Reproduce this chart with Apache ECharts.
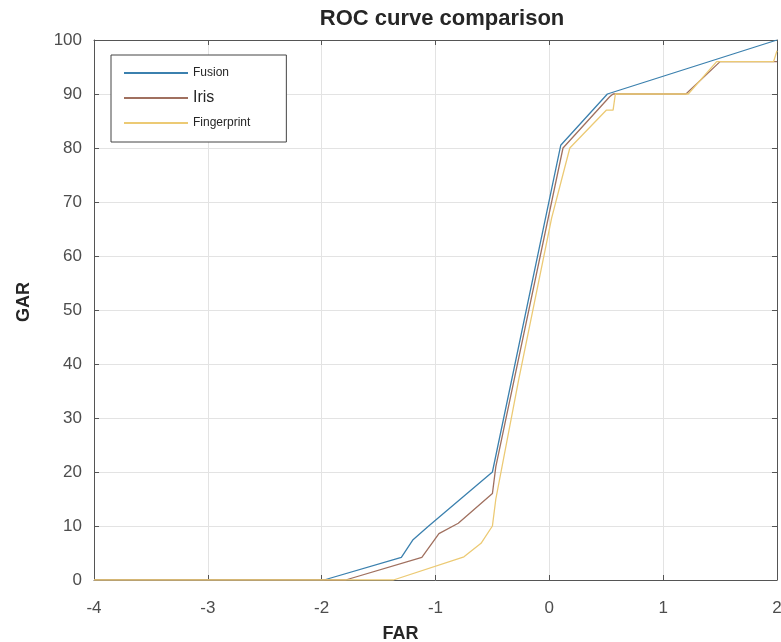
<!DOCTYPE html>
<html>
<head>
<meta charset="utf-8">
<title>ROC curve comparison</title>
<script src="https://cdn.jsdelivr.net/npm/echarts@6/dist/echarts.min.js"></script>
<style>
    html, body { margin: 0; padding: 0; background: #fff; }
    #chart { width: 781px; height: 642px; }
</style>
</head>
<body>
<div id="chart"></div>
<script>
// 读图得到的数据 (FAR, GAR)
const fusionX = [-4, -1.98, -1.3, -1.2, -1.06, -0.5, 0.1, 0.51, 2];
const fusionY = [0, 0, 4.2, 7.4, 10, 20, 80.5, 90, 100];

const irisX = [-4, -1.79, -1.12, -0.97, -0.8, -0.5, -0.47, 0.12, 0.53, 0.56, 1.2, 1.5, 2];
const irisY = [0, 0, 4.2, 8.6, 10.5, 16, 21, 80, 89.5, 90, 90, 96, 96];

const fingerX = [-4, -1.37, -0.75, -0.6, -0.5, -0.47, -0.27, 0.02, 0.18, 0.5, 0.56, 0.58, 1.22, 1.47, 1.97, 2];
const fingerY = [0, 0, 4.3, 6.8, 10, 15, 37, 67, 80, 87, 87, 90, 90, 96, 96, 98];

const seriesNames = ["Fusion", "Iris", "Fingerprint"];
const colors = ["#3b80ae", "#a0705f", "#ecca74"];

let toPairs = function(xs, ys) {
    return xs.map((x, i) => [x, ys[i]]);
}

const font = "'Liberation Sans', Arial, sans-serif";

function initRoc(dom) {
    const chart = echarts.init(dom);
    const lines = [
        toPairs(fusionX, fusionY),
        toPairs(irisX, irisY),
        toPairs(fingerX, fingerY),
    ];
    // 上边和右边的框线, 只画刻度
    const hiddenAxis = {
        type: 'value',
        axisLabel: { show: false },
        axisLine: { show: true, onZero: false, lineStyle: { color: '#555', width: 1 } },
        axisTick: { show: true, inside: true, length: 5, lineStyle: { color: '#555' } },
        splitLine: { show: false },
    };
    const option = {
        animation: false,
        backgroundColor: '#fff',
        title: {
            text: 'ROC curve comparison',
            left: 437,
            top: 3,
            textAlign: 'center',
            textStyle: {
                fontFamily: font,
                fontSize: 22,
                fontWeight: 'bold',
                color: '#262626',
            },
        },
        grid: {
            left: 94,
            right: 4,
            top: 40,
            bottom: 62,
            outerBoundsMode: 'none',
        },
        legend: {
            orient: 'vertical',
            left: 111,
            top: 55,
            data: seriesNames,
            icon: 'rect',
            itemWidth: 64,
            itemHeight: 2,
            itemGap: 7,
            padding: [9, 36, 10, 13],
            borderColor: '#444',
            borderWidth: 1,
            backgroundColor: '#fff',
            textStyle: {
                fontFamily: font,
                color: '#262626',
                lineHeight: 18,
                rich: {
                    n: { fontSize: 12, fontFamily: font, color: '#262626', lineHeight: 18 },
                    big: { fontSize: 16, fontFamily: font, color: '#262626', lineHeight: 18 },
                },
            },
            formatter: function(name) {
                return name === 'Iris' ? '{big|' + name + '}' : '{n|' + name + '}';
            },
        },
        xAxis: [
            {
                type: 'value',
                min: -4,
                max: 2,
                interval: 1,
                name: 'FAR',
                nameLocation: 'middle',
                nameGap: 45,
                nameTextStyle: {
                    fontFamily: font,
                    fontSize: 18,
                    fontWeight: 'bold',
                    color: '#262626',
                    padding: [0, 70, 0, 0],
                },
                axisLine: { show: true, onZero: false, lineStyle: { color: '#555', width: 1 } },
                axisTick: { show: true, inside: true, length: 5, lineStyle: { color: '#555' } },
                axisLabel: { fontFamily: font, fontSize: 17, color: '#4d4d4d', margin: 20 },
                splitLine: { show: true, lineStyle: { color: '#e3e3e3', width: 1 } },
            },
            Object.assign({ position: 'top', min: -4, max: 2, interval: 1 }, hiddenAxis),
        ],
        yAxis: [
            {
                type: 'value',
                min: 0,
                max: 100,
                interval: 10,
                name: 'GAR',
                nameLocation: 'middle',
                nameGap: 61,
                nameTextStyle: {
                    fontFamily: font,
                    fontSize: 18,
                    fontWeight: 'bold',
                    color: '#262626',
                    padding: [0, 0, 0, 16],
                },
                axisLine: { show: true, onZero: false, lineStyle: { color: '#555', width: 1 } },
                axisTick: { show: true, inside: true, length: 5, lineStyle: { color: '#555' } },
                axisLabel: { fontFamily: font, fontSize: 17, color: '#4d4d4d', margin: 12 },
                splitLine: { show: true, lineStyle: { color: '#e3e3e3', width: 1 } },
            },
            Object.assign({ position: 'right', min: 0, max: 100, interval: 10 }, hiddenAxis),
        ],
        series: seriesNames.map((name, i) => ({
            name: name,
            type: 'line',
            data: lines[i],
            showSymbol: false,
            symbol: 'none',
            color: colors[i],
            lineStyle: { width: 1.3, color: colors[i] },
            z: 3 + i,
        })),
    };
    chart.clear();
    chart.setOption(option);
}

initRoc(document.getElementById('chart'));
</script>
</body>
</html>
